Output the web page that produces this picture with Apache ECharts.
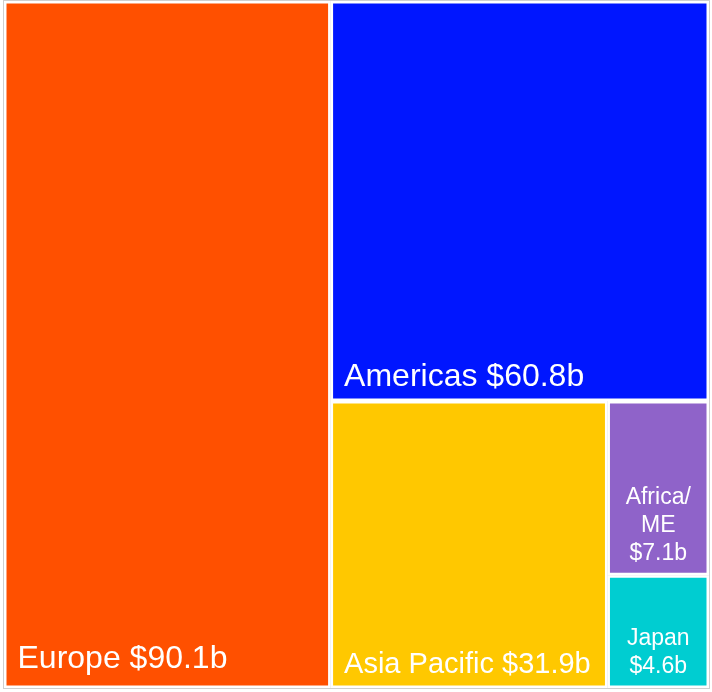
<!DOCTYPE html>
<html>
<head>
<meta charset="utf-8">
<script src="https://cdn.jsdelivr.net/npm/echarts@6/dist/echarts.min.js"></script>
<style>
html,body{margin:0;padding:0;background:#fff;}
#chart{width:712px;height:692px;}
</style>
</head>
<body>
<div id="chart"></div>
<script>
var regions = ['Europe', 'Americas', 'Asia Pacific', 'Africa/ME', 'Japan'];
var values = [90.1, 60.8, 31.9, 7.1, 4.6];
var colors = ['#FF5000', '#0016FF', '#FFC800', '#8F63C9', '#00CDD1'];
var compact = [false, false, false, true, true];
var fontSizes = [32, 32, 29, 23, 23];
var padBottom = [10, 5, 6, 5, 5];

var data = regions.map(function (name, i) {
  var small = compact[i];
  return {
    name: name,
    value: values[i],
    itemStyle: { color: colors[i] },
    label: small ? {
      position: 'insideBottom',
      align: 'center',
      fontSize: fontSizes[i],
      lineHeight: 28,
      distance: 0,
      padding: [0, 0, padBottom[i], 0]
    } : {
      position: 'insideBottomLeft',
      align: 'left',
      fontSize: fontSizes[i],
      distance: 0,
      padding: [0, 0, padBottom[i], 11]
    }
  };
});

var chart = echarts.init(document.getElementById('chart'), null, { renderer: 'canvas' });
chart.setOption({
  animation: false,
  series: [{
    type: 'treemap',
    left: 3, top: 0, right: 2, bottom: 3,
    roam: false,
    nodeClick: false,
    breadcrumb: { show: false },
    squareRatio: 0.5,
    sort: 'desc',
    emphasis: { disabled: true },
    label: {
      show: true,
      color: '#fff',
      fontFamily: 'Liberation Sans, Arial, sans-serif',
      overflow: 'none',
      formatter: function (p) {
        var i = regions.indexOf(p.name);
        var v = '$' + values[i].toFixed(1) + 'b';
        if (compact[i]) {
          return p.name.replace('/', '/\n') + '\n' + v;
        }
        return p.name + ' ' + v;
      }
    },
    levels: [
      { itemStyle: { borderColor: '#cfcfcf', borderWidth: 1, gapWidth: 0 } },
      { itemStyle: { borderColor: '#ffffff', borderWidth: 2.5, gapWidth: 0 } }
    ],
    data: data
  }]
});
</script>
</body>
</html>
